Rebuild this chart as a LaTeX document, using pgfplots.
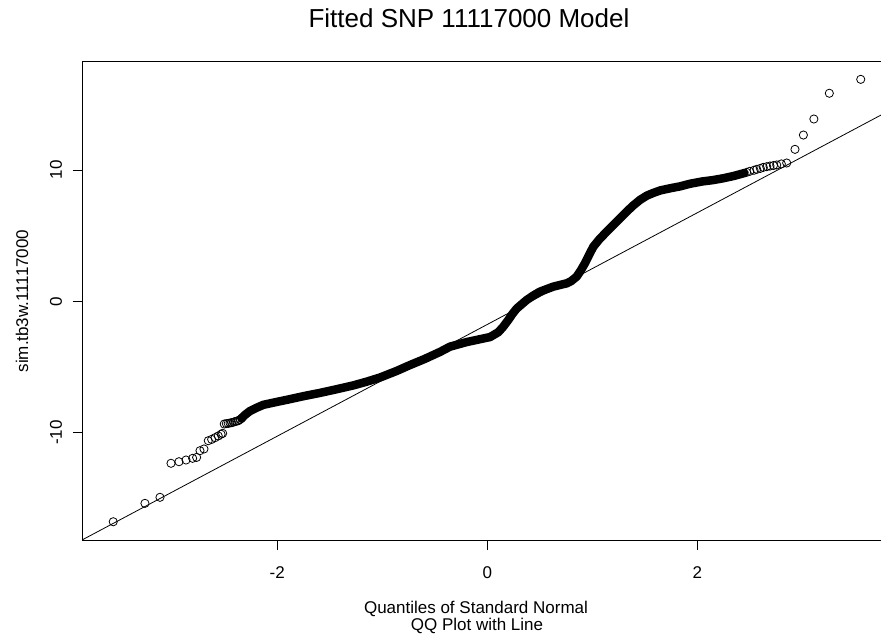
\documentclass[border=0pt]{standalone}
\usepackage{pgfplots}
\pgfplotsset{compat=1.18}
\usepackage{fontspec}
\setmainfont{Liberation Sans}
\begin{document}
\begin{tikzpicture}[x=1pt,y=1pt]
\useasboundingbox (0,0) rectangle (881,633);
\clip (0,0) rectangle (881,633);
\begin{axis}[
  at={(83pt,93pt)}, anchor=south west,
  scale only axis, width=808.6pt, height=478pt,
  xmin=-3.85, xmax=3.85, ymin=-18.17, ymax=18.22,
  xtick={-2,0,2}, ytick={-10,0,10},
  tick align=outside, tick pos=left,
  major tick length=10pt,
  every tick/.style={black, line width=0.8pt},
  axis line style={black, line width=1pt},
  tick label style={font=\fontsize{17}{17}\selectfont},
  /pgf/number format/assume math mode=true,
  xticklabel style={anchor=base},
  xticklabel shift=28pt,
  yticklabel style={rotate=90, anchor=base},
  yticklabel shift=11pt,
]
% reference line
\addplot[black, line width=0.8pt] coordinates {(-3.85,-18.13) (3.85,14.61)};
% dense central band of sample quantiles
\addplot[black, line width=8.5pt, line cap=round, line join=round] coordinates {
(-2.339,-8.90) (-2.308,-8.65) (-2.26,-8.35) (-2.196,-8.10) (-2.133,-7.88)
(-2.0,-7.65) (-1.91,-7.50) (-1.75,-7.22) (-1.593,-6.97) (-1.45,-6.72)
(-1.276,-6.40) (-1.15,-6.12) (-1.022,-5.80) (-0.863,-5.30) (-0.736,-4.85)
(-0.60,-4.40) (-0.45,-3.85) (-0.355,-3.45) (-0.196,-3.10) (-0.05,-2.85)
(0.026,-2.72) (0.105,-2.35) (0.15,-1.95) (0.20,-1.42) (0.24,-0.95)
(0.28,-0.55) (0.375,0.10) (0.44,0.45) (0.502,0.74) (0.629,1.12)
(0.756,1.37) (0.80,1.55) (0.851,1.88) (0.89,2.35) (0.93,2.90)
(0.97,3.55) (1.01,4.16) (1.07,4.75) (1.137,5.30) (1.20,5.80)
(1.264,6.32) (1.33,6.85) (1.39,7.30) (1.454,7.72) (1.52,8.05)
(1.58,8.25) (1.65,8.45) (1.75,8.62) (1.835,8.75) (1.93,8.95)
(2.05,9.13) (2.15,9.23) (2.248,9.37) (2.35,9.55) (2.45,9.77)
};
% individual points in the tails
\addplot[only marks, mark=o, mark size=4.1pt, mark options={line width=0.8pt, black}] coordinates {
(-3.562,-16.78) (-3.26,-15.38) (-3.117,-14.92) (-3.012,-12.33) (-2.936,-12.21)
(-2.869,-12.08) (-2.806,-11.95) (-2.768,-11.88) (-2.736,-11.37) (-2.698,-11.24)
(-2.657,-10.61) (-2.625,-10.51) (-2.593,-10.38) (-2.562,-10.25) (-2.535,-10.12)
(-2.52,-10.05) (-2.505,-9.34) (-2.485,-9.31) (-2.467,-9.29) (-2.45,-9.26)
(-2.434,-9.24) (-2.418,-9.20) (-2.403,-9.16) (-2.387,-9.12) (-2.371,-9.09)
(-2.355,-9.00) (-2.339,-8.90)
(2.47,9.82) (2.50,9.90) (2.54,9.98) (2.566,10.05) (2.60,10.12) (2.628,10.20)
(2.661,10.25) (2.692,10.30) (2.725,10.34) (2.756,10.38) (2.80,10.46)
(2.851,10.53) (2.93,11.57) (3.01,12.66) (3.11,13.88) (3.257,15.84)
(3.556,16.90)
};
\end{axis}
\node[font=\fontsize{26}{26}\selectfont, anchor=base] at (469,605) {Fitted SNP 11117000 Model};
\node[font=\fontsize{17}{18}\selectfont, anchor=base] at (476,19.5) {Quantiles of Standard Normal};
\node[font=\fontsize{17}{18}\selectfont, anchor=base] at (477,3) {QQ Plot with Line};
\node[font=\fontsize{17}{18}\selectfont, rotate=90, anchor=base] at (28,332) {sim.tb3w.11117000};
\end{tikzpicture}
\end{document}
